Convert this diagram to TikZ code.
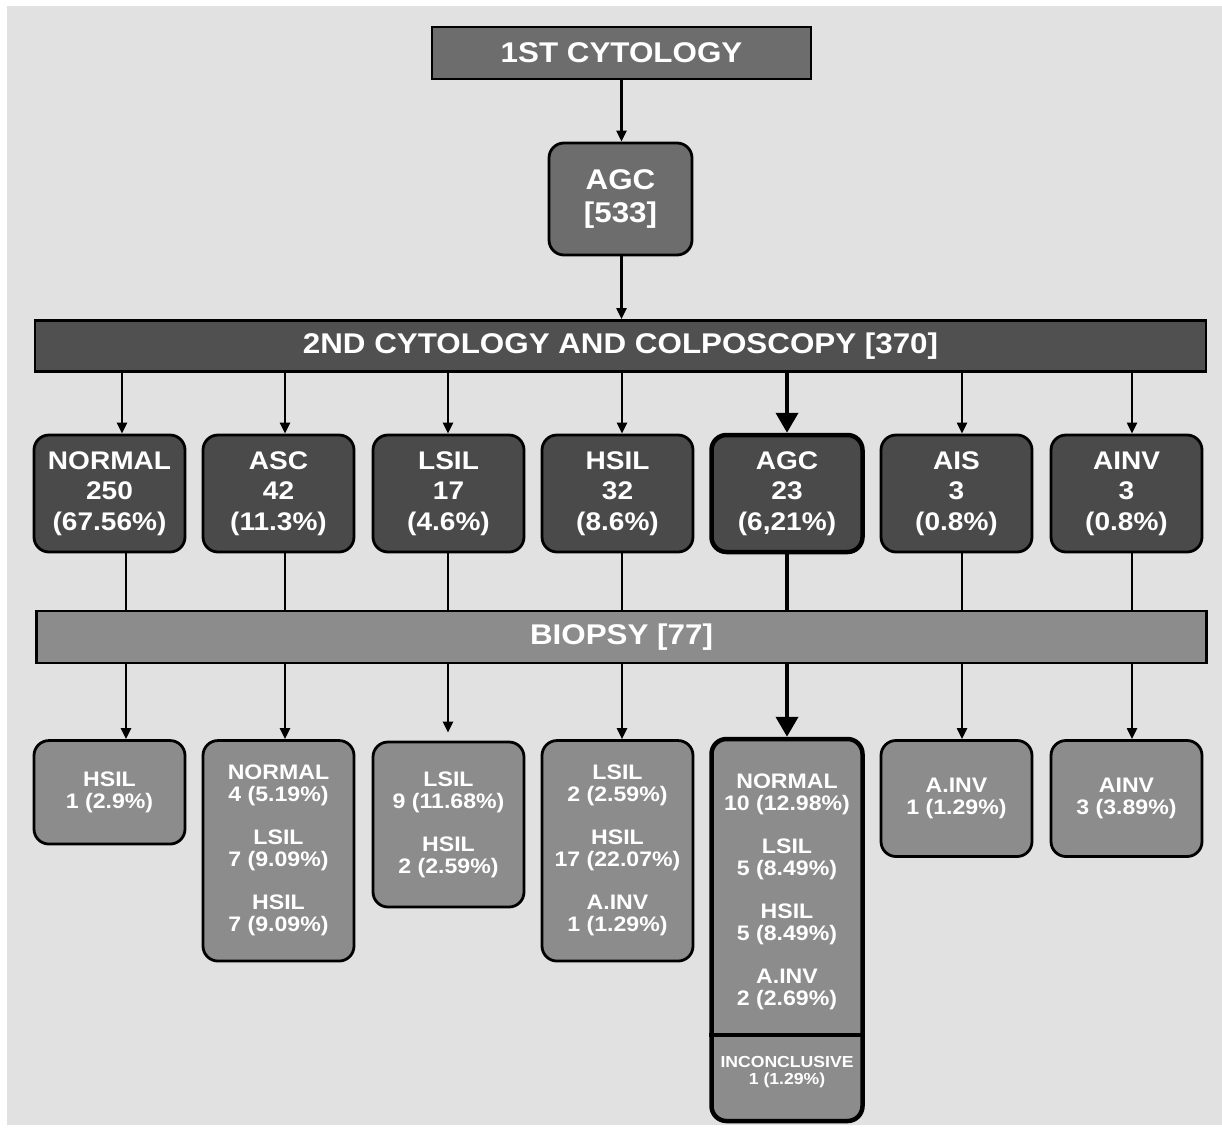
\documentclass[tikz,border=0pt]{standalone}
\usepackage{fontspec}
\setmainfont{Liberation Sans}[FakeStretch=1.1]
\usetikzlibrary{arrows.meta}
\definecolor{bg}{HTML}{E1E1E1}
\definecolor{darkbox}{HTML}{4A4A4A}
\definecolor{darkbar}{HTML}{505050}
\definecolor{midbox}{HTML}{6D6D6D}
\definecolor{lightbox}{HTML}{8C8C8C}
\begin{document}
\begin{tikzpicture}[x=1pt,y=-1pt,
  base/.style={draw=black, line width=2.8pt, inner sep=0pt, text=white, align=center},
  sqbox/.style={base},
  rbox/.style={base, rounded corners=15pt},
  bigtxt/.style={font=\bfseries\fontsize{28.5}{33}\selectfont},
  lvtwo/.style={font=\bfseries\fontsize{25.5}{30.5}\selectfont},
  lvthree/.style={font=\bfseries\fontsize{21}{22}\selectfont},
  tinytxt/.style={font=\bfseries\fontsize{16}{17}\selectfont},
  txt/.style={text=white, align=center, inner sep=0pt},
  conn/.style={line width=2.2pt, -{Triangle[length=11pt,width=10pt]}},
  plainline/.style={line width=2.2pt},
  thickconn/.style={line width=4pt, -{Triangle[length=20pt,width=22pt]}},
  thickline/.style={line width=4pt}
]
\fill[white] (0,0) rectangle (1222,1127);
\fill[bg] (7,6) rectangle (1222,1125);
\useasboundingbox (0,0) rectangle (1222,1127);

% column coordinates
\coordinate (k0) at (621.5,0);
\coordinate (ka1) at (122,0);
\coordinate (kb1) at (126,0);
\coordinate (ka2) at (285,0);
\coordinate (ka3) at (448,0);
\coordinate (ka4) at (622,0);
\coordinate (ka5) at (787,0);
\coordinate (ka6) at (962,0);
\coordinate (ka7) at (1132,0);
\coordinate (dv) at (787,1035);

% top
\node[sqbox, bigtxt, fill=midbox, minimum width=379pt, minimum height=52pt] (c1) at (621.5,53) {1ST CYTOLOGY};
\node[rbox, bigtxt, fill=midbox, minimum width=143pt, minimum height=112pt] (agc) at (620.5,199) {AGC\\{[533]}};
\node[sqbox, bigtxt, fill=darkbar, minimum width=1171pt, minimum height=51pt] (c2) at (620.5,346) {2ND CYTOLOGY AND COLPOSCOPY [370]};

% level 2
\node[rbox, lvtwo, fill=darkbox, minimum width=151pt, minimum height=117pt] (n1) at (109.5,493.5) {NORMAL\\250\\(67.56\%)};
\node[rbox, lvtwo, fill=darkbox, minimum width=151pt, minimum height=117pt] (n2) at (278.5,493.5) {ASC\\42\\(11.3\%)};
\node[rbox, lvtwo, fill=darkbox, minimum width=151pt, minimum height=117pt] (n3) at (448.5,493.5) {LSIL\\17\\(4.6\%)};
\node[rbox, lvtwo, fill=darkbox, minimum width=151pt, minimum height=117pt] (n4) at (617.5,493.5) {HSIL\\32\\(8.6\%)};
\node[rbox, lvtwo, fill=darkbox, line width=4.5pt, minimum width=151pt, minimum height=117pt] (n5) at (787,493.5) {AGC\\23\\(6,21\%)};
\node[rbox, lvtwo, fill=darkbox, minimum width=151pt, minimum height=117pt] (n6) at (956.5,493.5) {AIS\\3\\(0.8\%)};
\node[rbox, lvtwo, fill=darkbox, minimum width=151pt, minimum height=117pt] (n7) at (1126.5,493.5) {AINV\\3\\(0.8\%)};

% biopsy bar
\node[sqbox, bigtxt, fill=lightbox, minimum width=1170pt, minimum height=52pt] (bio) at (621.5,637) {BIOPSY [77]};

% level 3
\node[rbox, lvthree, fill=lightbox, minimum width=151pt, minimum height=103.5pt] (b1) at (109.5,792.3) {HSIL\\1 (2.9\%)};
\node[rbox, lvthree, fill=lightbox, minimum width=151pt, minimum height=220.5pt] (b2) at (278.5,850.8) {NORMAL\\4 (5.19\%)\\[21pt]LSIL\\7 (9.09\%)\\[21pt]HSIL\\7 (9.09\%)};
\node[rbox, lvthree, fill=lightbox, minimum width=151pt, minimum height=165pt] (b3) at (448.5,824.5) {LSIL\\9 (11.68\%)\\[21pt]HSIL\\2 (2.59\%)};
\node[rbox, lvthree, fill=lightbox, minimum width=151pt, minimum height=220.5pt] (b4) at (617.5,850.8) {LSIL\\2 (2.59\%)\\[21pt]HSIL\\17 (22.07\%)\\[21pt]A.INV\\1 (1.29\%)};
\node[rbox, fill=lightbox, line width=4.5pt, minimum width=151pt, minimum height=382pt] (b5) at (787,930) {};
\node[rbox, lvthree, fill=lightbox, minimum width=151pt, minimum height=116pt] (b6) at (956.5,798.5) {A.INV\\1 (1.29\%)};
\node[rbox, lvthree, fill=lightbox, minimum width=151pt, minimum height=116pt] (b7) at (1126.5,798.5) {AINV\\3 (3.89\%)};

\draw[line width=4.5pt] (b5.west |- dv) -- (b5.east |- dv);
\node[txt, lvthree] (t5) at (787,892) {NORMAL\\10 (12.98\%)\\[21pt]LSIL\\5 (8.49\%)\\[21pt]HSIL\\5 (8.49\%)\\[21pt]A.INV\\2 (2.69\%)};
\node[txt, tinytxt] (t5i) at (787,1072) {INCONCLUSIVE\\1 (1.29\%)};

% connectors top
\draw[conn] (c1.south -| k0) -- (agc.north -| k0);
\draw[conn] (agc.south -| k0) -- (c2.north -| k0);

% bar to level 2
\draw[conn] (c2.south -| ka1) -- (n1.north -| ka1);
\draw[conn] (c2.south -| ka2) -- (n2.north -| ka2);
\draw[conn] (c2.south -| ka3) -- (n3.north -| ka3);
\draw[conn] (c2.south -| ka4) -- (n4.north -| ka4);
\draw[thickconn] (c2.south -| ka5) -- (n5.north -| ka5);
\draw[conn] (c2.south -| ka6) -- (n6.north -| ka6);
\draw[conn] (c2.south -| ka7) -- (n7.north -| ka7);

% level 2 to biopsy
\draw[plainline] (n1.south -| kb1) -- (bio.north -| kb1);
\draw[plainline] (n2.south -| ka2) -- (bio.north -| ka2);
\draw[plainline] (n3.south -| ka3) -- (bio.north -| ka3);
\draw[plainline] (n4.south -| ka4) -- (bio.north -| ka4);
\draw[thickline] (n5.south -| ka5) -- (bio.north -| ka5);
\draw[plainline] (n6.south -| ka6) -- (bio.north -| ka6);
\draw[plainline] (n7.south -| ka7) -- (bio.north -| ka7);

% biopsy to level 3
\draw[conn] (bio.south -| kb1) -- (b1.north -| kb1);
\draw[conn] (bio.south -| ka2) -- (b2.north -| ka2);
\draw[conn, shorten >=8pt] (bio.south -| ka3) -- (b3.north -| ka3);
\draw[conn] (bio.south -| ka4) -- (b4.north -| ka4);
\draw[thickconn] (bio.south -| ka5) -- (b5.north -| ka5);
\draw[conn] (bio.south -| ka6) -- (b6.north -| ka6);
\draw[conn] (bio.south -| ka7) -- (b7.north -| ka7);
\end{tikzpicture}
\end{document}
